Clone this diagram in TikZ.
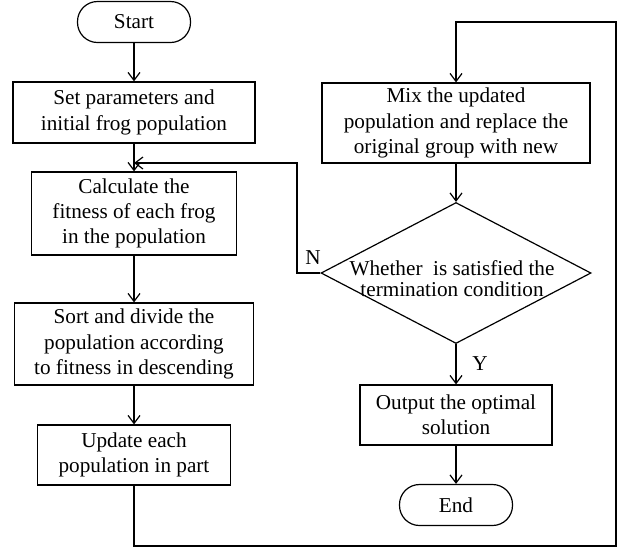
\documentclass[tikz,border=0pt]{standalone}
\usepackage{fontspec}
\setmainfont{Liberation Serif}
\usetikzlibrary{shapes.geometric, arrows.meta}

\begin{document}
\begin{tikzpicture}[x=0.5pt, y=-0.5pt, >={Straight Barb[length=4pt, width=6pt]}, line width=0.6pt,
  box/.style={draw, align=center, inner sep=1pt, font=\fontsize{10.6}{12.6}\selectfont},
  term/.style={box, rounded corners=10pt, minimum width=56.5pt, minimum height=20.5pt}]

\useasboundingbox (0,0) rectangle (619,548);

% terminals
\node[term] (start) at (134,22) {Start};
\node[term] (end) at (456,505) {End};

% left column
\node[box, minimum width=121pt, minimum height=30.5pt] (set) at (134,112.5)
  {Set parameters and\\initial frog population};
\node[box, minimum width=102.5pt, minimum height=41.5pt] (calc) at (134,213.5)
  {Calculate the\\fitness of each frog\\in the population};
\node[box, minimum width=119.5pt, minimum height=41pt] (sort) at (134,344)
  {Sort and divide the\\population according\\to fitness in descending};
\node[box, minimum width=96.5pt, minimum height=30pt] (upd) at (134,455)
  {Update each\\population in part};

% right column
\node[box, minimum width=134pt, minimum height=40pt] (mix) at (456,123)
  {Mix the updated\\population and replace the\\original group with new};
\node[draw, diamond, inner sep=0pt, minimum width=135pt, minimum height=70.5pt] (cond) at (456,273) {};
\node[align=center, font=\fontsize{10.6}{10.4}\selectfont] (condtext) at (452,279)
  {Whether~ is satisfied the\\termination condition};
\node[box, minimum width=96pt, minimum height=30pt] (out) at (456,415)
  {Output the optimal\\solution};

% pomocne body
\coordinate (join) at (134,163);
\coordinate (nup) at (297,163);
\coordinate (ndown) at (297,273);
\coordinate (b1) at (134,546);
\coordinate (b2) at (616,546);
\coordinate (b3) at (616,22);
\coordinate (b4) at (456,22);

% sipky
\draw[->] (start) -- (set);
\draw[->] (set) -- (calc);
\draw[->] (calc) -- (sort);
\draw[->] (sort) -- (upd);
\draw[->] (upd.south) -- (b1) -- (b2) -- (b3) -- (b4) -- (mix.north);
\draw[->] (mix) -- (cond.north);
\draw[->] (cond.west) -- (ndown) -- (nup) -- (join);
\draw[->] (cond.south) -- (out.north);
\draw[->] (out) -- (end);

% popisky
\node[font=\fontsize{10.6}{12.6}\selectfont] (nlab) at (313,258) {N};
\node[font=\fontsize{10.6}{12.6}\selectfont] (ylab) at (480,364) {Y};

\end{tikzpicture}
\end{document}
